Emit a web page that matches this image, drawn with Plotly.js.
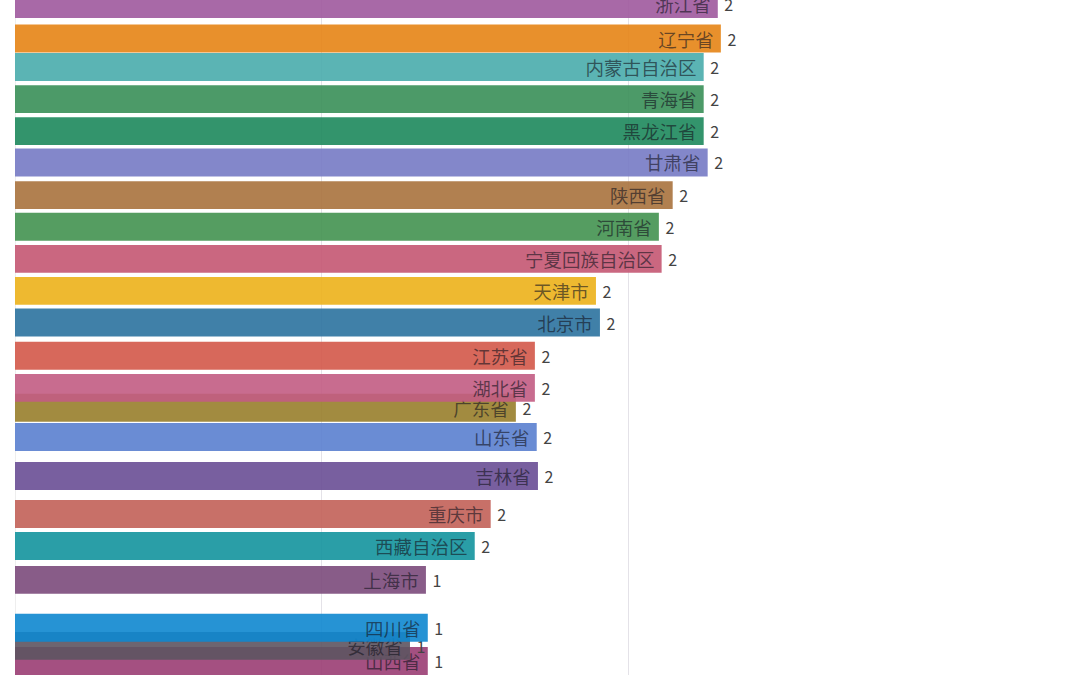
<!DOCTYPE html>
<html>
<head>
<meta charset="utf-8">
<script src="https://cdn.plot.ly/plotly-3.0.1.min.js"></script>
<style>html,body{margin:0;padding:0;background:#fff;}#chart{width:1080px;height:675px;}</style>
</head>
<body>
<div id="chart"></div>
<script>
// Frame of a bar-chart race: interpolated values and (fractional) ranks
const provinces = ["浙江省","辽宁省","内蒙古自治区","青海省","黑龙江省","甘肃省","陕西省","河南省","宁夏回族自治区","天津市","北京市","江苏省","湖北省","广东省","山东省","吉林省","重庆市","西藏自治区","上海市","四川省","安徽省","山西省"];
const values = [2.29,2.30,2.244,2.244,2.244,2.257,2.143,2.098,2.107,1.893,1.906,1.694,1.694,1.632,1.700,1.704,1.550,1.498,1.339,1.345,1.287,1.345];
const ranks = [1.00,2.09,2.99,4.00,5.01,6.00,7.03,8.03,9.04,10.05,11.05,12.10,13.11,13.74,14.66,15.89,17.09,18.10,19.17,20.68,21.25,21.73];
const shownValues = ["2","2","2","2","2","2","2","2","2","2","2","2","2","2","2","2","2","2","1","1","1","1"];
const colors = ["#9E599D","#E58415","#49ACAC","#388F58","#1D885C","#757AC4","#A8723D","#439250","#C45772","#ECB119","#2B729E","#D35849","#C25C83","#987E2B","#5A7FCF","#694E95","#C26158","#13949D","#7B4A7B","#0E87CF","#5D5461","#9A3D73"];

const font = '"Noto Sans CJK SC", "Noto Sans", sans-serif';
const order = provinces.map((_, i) => i).sort((a, b) => ranks[b] - ranks[a]);
const traces = [];
order.forEach(i => {
  traces.push({
    type: 'bar', orientation: 'h',
    x: [values[i]], y: [ranks[i]], width: 0.88,
    marker: {color: colors[i], opacity: 0.9},
    text: [provinces[i] + '\u00a0'], textposition: 'inside', insidetextanchor: 'end',
    constraintext: 'none',
    insidetextfont: {family: font, size: 18.5, color: 'rgba(20,20,30,0.62)'},
    hoverinfo: 'skip', showlegend: false, cliponaxis: false
  });
  traces.push({
    type: 'bar', orientation: 'h',
    x: [values[i]], y: [ranks[i]], width: 0.88,
    marker: {color: 'rgba(0,0,0,0)'},
    text: ['\u00a0' + shownValues[i]], textposition: 'outside', constraintext: 'none',
    outsidetextfont: {family: font, size: 16, color: '#444'},
    hoverinfo: 'skip', showlegend: false, cliponaxis: false
  });
});

const layout = {
  width: 1080, height: 675,
  margin: {l: 15, r: 175, t: 0, b: 0},
  paper_bgcolor: '#fff', plot_bgcolor: '#fff',
  barmode: 'overlay',
  xaxis: {range: [0, 2.9], dtick: 1, tick0: 0, showticklabels: false, ticks: '',
          showgrid: true, gridcolor: '#e4e2e8', gridwidth: 1,
          zeroline: true, zerolinecolor: '#eeeeee', zerolinewidth: 1, showline: false},
  yaxis: {range: [22.17, 0.874], showticklabels: false, showgrid: false, zeroline: false, ticks: ''},
  font: {family: font}
};
Plotly.newPlot('chart', traces, layout, {staticPlot: true, displayModeBar: false});
</script>
</body>
</html>
